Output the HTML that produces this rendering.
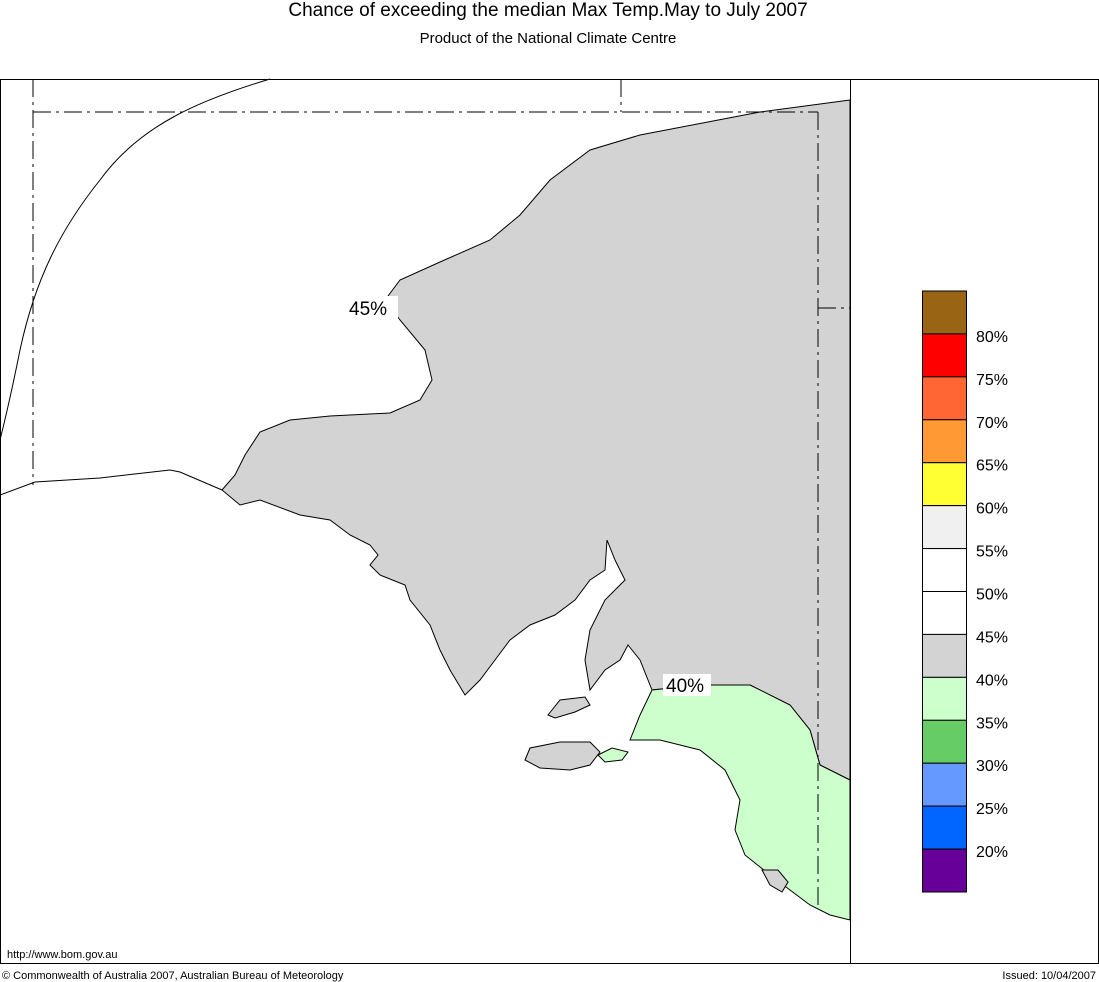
<!DOCTYPE html>
<html><head><meta charset="utf-8">
<style>
body{margin:0;background:#fff;width:1099px;height:982px;overflow:hidden;font-family:"Liberation Sans",sans-serif;}
svg{position:absolute;left:0;top:0}
</style></head>
<body>
<svg id="chart" width="1099" height="982" viewBox="0 0 1099 982">
<text x="548" y="16" text-anchor="middle" font-size="19">Chance of exceeding the median Max Temp.May to July 2007</text>
<text x="548" y="43" text-anchor="middle" font-size="15">Product of the National Climate Centre</text>
<rect x="0.5" y="79.5" width="1098" height="884" fill="#fff" stroke="#000"/>
<g>
<path fill="#d3d3d3" stroke="#000" stroke-width="1" d="M850,100 L760,112 L640,135 L590,150 L550,180 L520,215 L490,240 L440,262 L400,280 L385,300 L400,320 L425,350 L432,380 L420,400 L390,413 L330,416 L290,420 L260,432 L245,455 L235,475 L222,490 L240,505 L260,500 L300,515 L330,520 L350,535 L370,545 L378,555 L370,565 L380,575 L405,585 L410,600 L430,625 L440,650 L450,670 L465,695 L480,680 L495,660 L510,640 L530,625 L555,615 L575,600 L590,580 L605,570 L607,540 L615,560 L625,580 L605,600 L590,630 L585,660 L590,690 L605,670 L620,660 L628,645 L640,660 L652,690 L700,685 L750,685 L790,705 L810,730 L820,765 L850,780 Z"/>
<path fill="#ccffcc" stroke="#000" stroke-width="1" d="M652,690 L640,715 L630,740 L660,740 L700,750 L725,770 L740,800 L735,830 L745,855 L770,875 L790,890 L810,905 L830,915 L850,920 L850,780 L820,765 L810,730 L790,705 L750,685 L700,685 Z"/>
<path fill="#d3d3d3" stroke="#000" d="M548,715 L560,700 L585,697 L590,705 L575,712 L555,718 Z"/>
<path fill="#d3d3d3" stroke="#000" d="M525,760 L530,748 L560,742 L590,742 L600,752 L590,765 L570,770 L540,768 Z"/>
<path fill="#ccffcc" stroke="#000" d="M598,755 L612,748 L628,752 L622,760 L605,762 Z"/>
<path fill="#d3d3d3" stroke="#000" d="M762,870 L778,870 L788,882 L782,892 L770,885 Z"/>
<path fill="none" stroke="#000" d="M0,495 L35,482 L100,478 L170,470 L180,472 L222,490"/>
<path fill="none" stroke="#000" d="M270,79 C200,100 140,125 100,180 C60,230 35,280 20,350 C12,390 5,420 0,440"/>
<g stroke="#000" stroke-dasharray="18,5,3,5" fill="none">
<line x1="33" y1="79" x2="33" y2="485"/>
<line x1="33" y1="112" x2="818" y2="112"/>
<line x1="621" y1="79" x2="621" y2="112"/>
<line x1="818" y1="112" x2="818" y2="905"/>
<line x1="818" y1="308" x2="850" y2="308"/>
</g>
<rect x="346" y="296" width="52" height="24" fill="#fff"/>
<text x="349" y="315" font-size="19">45%</text>
<rect x="663" y="674" width="48" height="22" fill="#fff"/>
<text x="666" y="692" font-size="19">40%</text>
</g>
<line x1="850.5" y1="79" x2="850.5" y2="963" stroke="#000"/>
<g id="legend"></g>
<text x="7" y="958" font-size="11">http://www.bom.gov.au</text>
<text x="2" y="979" font-size="11">© Commonwealth of Australia 2007, Australian Bureau of Meteorology</text>
<text x="1096" y="979" font-size="11" text-anchor="end">Issued: 10/04/2007</text>
</svg>
<script>
const legendColors = ["#996515","#ff0000","#ff6633","#ff9933","#ffff33","#f0f0f0","#ffffff","#ffffff","#d3d3d3","#ccffcc","#66cc66","#6699ff","#0066ff","#660099"];
const legendLabels = ["80%","75%","70%","65%","60%","55%","50%","45%","40%","35%","30%","25%","20%"];
const g = document.getElementById('legend');
const NS = "http://www.w3.org/2000/svg";
const top0 = 291, cellH = (892 - 291) / legendColors.length;
legendColors.forEach((c, i) => {
  const r = document.createElementNS(NS, 'rect');
  r.setAttribute('x', 922.5); r.setAttribute('y', top0 + i * cellH);
  r.setAttribute('width', 44); r.setAttribute('height', cellH);
  r.setAttribute('fill', c); r.setAttribute('stroke', '#000');
  
  
  g.appendChild(r);
});
legendLabels.forEach((l, i) => {
  const t = document.createElementNS(NS, 'text');
  t.setAttribute('x', 976); t.setAttribute('y', top0 + (i + 1) * cellH + 8);
  t.setAttribute('font-size', '16');
  t.textContent = l;
  
  
  g.appendChild(t);
});
</script>
</body></html>
